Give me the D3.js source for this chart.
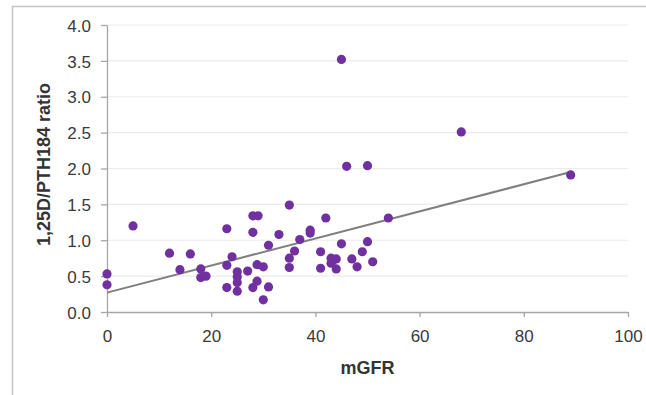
<!DOCTYPE html>
<html>
<head>
<meta charset="utf-8">
<script src="https://cdn.jsdelivr.net/npm/d3@7"></script>
<style>
  body { margin: 0; background: #fff; }
  text { font-family: "Liberation Sans", Arial, sans-serif; }
</style>
</head>
<body>
<div id="chart"></div>
<script>
// mGFR (x) and 1,25D/PTH184 ratio (y)
const mgfr = [0, 0, 5, 12, 14, 16, 18, 18, 19, 23, 23, 23, 24, 25, 25, 25, 25, 27, 28, 29, 28, 28,
  28.8, 28.8, 30, 30, 31, 31, 33, 35, 35, 35, 36, 37, 39, 39, 41, 41, 42, 43, 43, 43.5, 44, 44,
  45, 45, 46, 47, 48, 49, 50, 50, 51, 54, 68, 89];
const ratio = [0.53, 0.38, 1.2, 0.82, 0.59, 0.81, 0.6, 0.48, 0.5, 1.16, 0.65, 0.34, 0.77, 0.56, 0.49, 0.41, 0.29, 0.57, 1.34, 1.34, 1.11, 0.34,
  0.66, 0.43, 0.63, 0.17, 0.93, 0.35, 1.08, 1.49, 0.75, 0.62, 0.85, 1.01, 1.14, 1.1, 0.84, 0.61, 1.31, 0.75, 0.68, 0.73, 0.74, 0.6,
  3.52, 0.95, 2.03, 0.74, 0.63, 0.84, 2.04, 0.98, 0.7, 1.31, 2.51, 1.91];

// linear trend line end points
const trendX = [0, 89];
const trendY = [0.27, 1.95];

const xTicks = [0, 20, 40, 60, 80, 100];
const yTicks = [0, 0.5, 1, 1.5, 2, 2.5, 3, 3.5, 4];

const W = 646, H = 395;
const margin = { top: 25, right: 18, bottom: 83, left: 107 };
const width = W - margin.left - margin.right;
const height = H - margin.top - margin.bottom;

const root = d3.select('#chart').append('svg')
  .attr('width', W)
  .attr('height', H);

// outer frame (top and left edges visible)
root.append('path')
  .attr('d', `M12.5,${H} V6.5 H${W}`)
  .attr('fill', 'none')
  .attr('stroke', '#c4c4c4')
  .attr('stroke-width', 1.5);

const svg = root.append('g')
  .attr('transform', `translate(${margin.left},${margin.top})`);

const x = d3.scaleLinear().domain([0, 100]).range([0, width]);
const y = d3.scaleLinear().domain([0, 4]).range([height, 0]);

// gridlines
svg.append('g')
  .selectAll('line')
  .data(yTicks.filter(d => d > 0))
  .enter().append('line')
  .attr('x1', 0)
  .attr('x2', width)
  .attr('y1', d => y(d))
  .attr('y2', d => y(d))
  .attr('stroke', '#ebebeb')
  .attr('stroke-width', 1.2);

// X axis
const xAxisGroup = svg.append('g')
  .attr('transform', `translate(0,${height})`)
  .call(d3.axisBottom(x).tickValues(xTicks).tickSize(5).tickSizeOuter(0).tickPadding(13));

// Y axis
const yAxisGroup = svg.append('g')
  .call(d3.axisLeft(y).tickValues(yTicks).tickFormat(d3.format('.1f')).tickSize(6).tickSizeOuter(0).tickPadding(10));

[xAxisGroup, yAxisGroup].forEach(g => {
  g.select('.domain').attr('stroke', '#a6a6a6').attr('stroke-width', 1.3);
  g.selectAll('.tick line').attr('stroke', '#a6a6a6').attr('stroke-width', 1.3);
  g.selectAll('.tick text')
    .attr('fill', '#3a3a3a')
    .style('font-size', '17px');
});
yAxisGroup.selectAll('.tick text').attr('dy', '0.36em');

// axis titles
svg.append('text')
  .attr('x', width / 2)
  .attr('y', height + 62)
  .attr('text-anchor', 'middle')
  .style('font-size', '18px')
  .style('font-weight', 'bold')
  .attr('fill', '#333')
  .text('mGFR');

svg.append('text')
  .attr('transform', 'rotate(-90)')
  .attr('x', -(height / 2) + 4)
  .attr('y', 50 - margin.left)
  .attr('text-anchor', 'middle')
  .style('font-size', '18px')
  .style('font-weight', 'bold')
  .attr('fill', '#333')
  .text('1,25D/PTH184 ratio');

// trend line
svg.append('line')
  .attr('x1', x(trendX[0]))
  .attr('y1', y(trendY[0]))
  .attr('x2', x(trendX[1]))
  .attr('y2', y(trendY[1]))
  .attr('stroke', '#7f7f7f')
  .attr('stroke-width', 2);

// points
svg.selectAll('.dot')
  .data(mgfr.map((d, i) => ({ x: d, y: ratio[i] })))
  .enter().append('circle')
  .attr('class', 'dot')
  .attr('cx', d => x(d.x))
  .attr('cy', d => y(d.y))
  .attr('r', 4.6)
  .attr('fill', '#7030a0');
</script>
</body>
</html>
